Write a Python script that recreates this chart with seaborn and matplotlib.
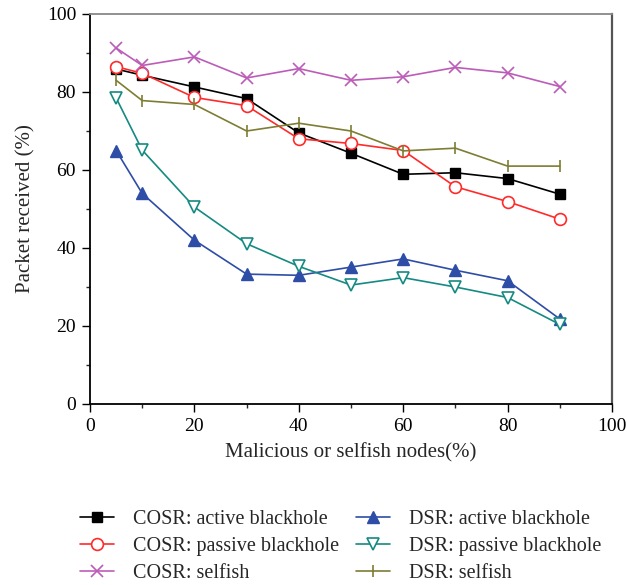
import matplotlib
matplotlib.use("Agg")
import matplotlib.pyplot as plt
import seaborn as sns
import pandas as pd

nodes = [5, 10, 20, 30, 40, 50, 60, 70, 80, 90]
cosr_active = [85.9, 84.3, 81.3, 78.3, 69.5, 64.3, 58.9, 59.3, 57.8, 53.8]
cosr_passive = [86.5, 84.8, 78.6, 76.5, 68.0, 66.8, 65.0, 55.7, 51.9, 47.4]
cosr_selfish = [91.3, 86.8, 89.0, 83.6, 86.0, 83.0, 83.9, 86.3, 84.9, 81.4]
dsr_active = [65.0, 54.0, 42.0, 33.3, 33.0, 35.1, 37.2, 34.3, 31.6, 21.8]
dsr_passive = [78.5, 65.1, 50.5, 41.1, 35.3, 30.5, 32.4, 30.0, 27.3, 20.4]
dsr_selfish = [83.0, 77.8, 76.8, 70.0, 72.0, 70.0, 64.9, 65.6, 61.0, 61.0]

labels = ["COSR: active blackhole", "COSR: passive blackhole", "COSR: selfish",
          "DSR: active blackhole", "DSR: passive blackhole", "DSR: selfish"]
xticks = [0, 20, 40, 60, 80, 100]
yticks = [0, 20, 40, 60, 80, 100]

sns.set_theme(style="ticks")
plt.rcParams['font.family'] = ['Liberation Serif', 'DejaVu Serif']

fig = plt.figure(figsize=(6.27, 5.85), dpi=100)
ax = fig.add_axes([90/627, 1-404/585, (612-90)/627, (404-14)/585])

series = [cosr_active, cosr_passive, cosr_selfish, dsr_active, dsr_passive, dsr_selfish]
styles = [
    dict(color="#000000", marker="s", ms=7, mfc="#000000", mec="#000000", mew=1),
    dict(color="#FF2A2A", marker="o", ms=8.5, mfc="white", mec="#FF2A2A", mew=1.2),
    dict(color="#BC5CB8", marker="x", ms=8.5, mfc="#BC5CB8", mec="#BC5CB8", mew=1.2),
    dict(color="#2E4DA6", marker="^", ms=9, mfc="#2E4DA6", mec="#2E4DA6", mew=1),
    dict(color="#158A82", marker="v", ms=9, mfc="white", mec="#158A82", mew=1.2),
    dict(color="#7D7D33", marker="|", ms=9, mfc="#7D7D33", mec="#7D7D33", mew=1.2),
]

handles = []
for vals, lab, st in zip(series, labels, styles):
    df = pd.DataFrame({"x": nodes, "y": vals})
    sns.lineplot(data=df, x="x", y="y", ax=ax, color=st["color"], linewidth=1.2,
                 marker=st["marker"], markersize=st["ms"], markerfacecolor=st["mfc"],
                 markeredgecolor=st["mec"], markeredgewidth=st["mew"], label=lab,
                 legend=False)
    handles.append(ax.lines[-1])

ax.set_xlim(0, 100)
ax.set_ylim(0, 100)
ax.set_xticks(xticks)
ax.set_yticks(yticks)
ax.set_xticks([10, 30, 50, 70, 90], minor=True)
ax.set_yticks([10, 30, 50, 70, 90], minor=True)
ax.tick_params(which="major", direction="out", length=6, width=1, labelsize=14, colors="black", pad=4)
ax.tick_params(which="minor", direction="out", length=3, width=1)
ax.set_xlabel("Malicious or selfish nodes(%)", fontsize=15, labelpad=6)
ax.set_ylabel("Packet received (%)", fontsize=15, labelpad=8)
for s in ["left", "bottom"]:
    ax.spines[s].set_color("black")
    ax.spines[s].set_linewidth(1.3)
ax.spines["top"].set_color("#888888")
ax.spines["top"].set_linewidth(1.3)
ax.spines["right"].set_color("#555555")
ax.spines["right"].set_linewidth(1.6)
ax.spines["top"].set_visible(True)
ax.spines["right"].set_visible(True)

fig.legend(handles=handles, labels=labels, ncol=2, loc="upper left",
           bbox_to_anchor=(80/627, 1-510/585), frameon=False, fontsize=14.5,
           handlelength=1.7, handletextpad=0.93, columnspacing=0.85, labelspacing=0.39,
           borderaxespad=0, borderpad=0)

fig.savefig("out.png", dpi=100)
